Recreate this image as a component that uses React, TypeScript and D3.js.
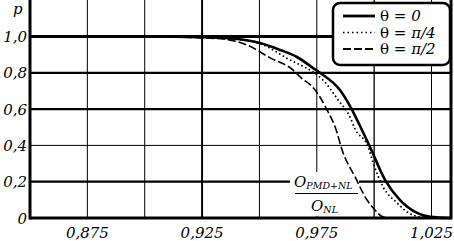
import React from 'react';
import * as d3 from 'd3';

// curve data: [x, p]
const solidPts: [number, number][] = [
  [0.85, 1.0], [0.9, 1.0], [0.925, 0.996], [0.937, 0.99], [0.9503, 0.964],
  [0.959, 0.926], [0.9664, 0.887], [0.9734, 0.826], [0.9764, 0.8],
  [0.9851, 0.705], [0.9904, 0.595], [0.9947, 0.485], [0.9982, 0.391],
  [1.0048, 0.209], [1.0113, 0.099], [1.0187, 0.028], [1.0244, 0.006], [1.0331, 0],
];
const dottedPts: [number, number][] = [
  [0.85, 1.0], [0.9, 1.0], [0.925, 0.995], [0.937, 0.988], [0.9503, 0.96],
  [0.9634, 0.87], [0.9734, 0.804], [0.9777, 0.76], [0.9843, 0.65],
  [0.9895, 0.556], [0.9917, 0.49], [0.9974, 0.391], [0.9996, 0.303],
  [1.0039, 0.171], [1.01, 0.083], [1.0144, 0.033], [1.0201, 0.006], [1.0288, 0],
];
const dashedPts: [number, number][] = [
  [0.85, 1.0], [0.9, 1.0], [0.92, 0.995], [0.935, 0.985], [0.9446, 0.953],
  [0.9547, 0.882], [0.9647, 0.815], [0.9678, 0.777], [0.9743, 0.705],
  [0.9795, 0.595], [0.983, 0.501], [0.9865, 0.358], [0.9917, 0.226],
  [0.9969, 0.099], [0.9996, 0.055], [1.0039, 0.006], [1.007, 0],
];

const xTicks = [0.875, 0.925, 0.975, 1.025];
const xGrid = [0.875, 0.9, 0.925, 0.95, 0.975, 1.0, 1.025];
const xGridWidth = [1, 1, 2, 1, 1, 1.3, 1];
const yTicks = [0, 0.2, 0.4, 0.6, 0.8, 1.0];
const yGridWidth = [3, 2.2, 1, 2.2, 2.2, 3];

const legendItems = [
  { label: '0', dash: 'none', w: 2.8 },
  { label: 'π/4', dash: '1.5,3', w: 1.6 },
  { label: 'π/2', dash: '8,3', w: 2 },
];

const fmt = (v: number) => (v === 0 ? '0' : d3.format('.3~f')(v).replace('.', ','));
const fmtY = (v: number) => (v === 0 ? '0' : v.toFixed(1).replace('.', ','));

const SERIF = 'DejaVu Serif';

export default function App() {
  const W = 454, H = 241;
  const x = d3.scaleLinear().domain([0.85, 1.0335]).range([30, 451]);
  const y = d3.scaleLinear().domain([0, 1]).range([218, 36.5]);
  const line = d3
    .line<[number, number]>()
    .x((d) => x(d[0]))
    .y((d) => y(d[1]))
    .curve(d3.curveMonotoneX);

  return (
    <svg width={W} height={H} style={{ position: 'absolute', left: 0, top: 0, background: '#fff' }}>
      {/* grid */}
      {xGrid.map((t, i) => (
        <line key={'vx' + i} x1={x(t)} x2={x(t)} y1={0} y2={218} stroke="#000" strokeWidth={xGridWidth[i]} />
      ))}
      {yTicks.map((t, i) => (
        <line key={'hy' + i} x1={30} x2={451} y1={y(t)} y2={y(t)} stroke="#000" strokeWidth={yGridWidth[i]} />
      ))}
      {/* axes */}
      <line x1={30} x2={30} y1={0} y2={219.5} stroke="#000" strokeWidth={3} />
      <line x1={451} x2={451} y1={0} y2={219.5} stroke="#000" strokeWidth={3} />

      {/* fraction label background */}
      <rect x={290} y={172} width={69} height={44} fill="#fff" />

      {/* curves */}
      <path d={line(solidPts) || ''} fill="none" stroke="#000" strokeWidth={2.6} />
      <path d={line(dottedPts) || ''} fill="none" stroke="#000" strokeWidth={1.7} strokeDasharray="1.6,2.6" />
      <path d={line(dashedPts) || ''} fill="none" stroke="#000" strokeWidth={1.6} strokeDasharray="8,3" />

      {/* fraction label */}
      <g fontStyle="italic" fill="#000" fontFamily={SERIF}>
        <text x={294} y={187} fontSize={15}>
          O<tspan fontSize={9.5} dy={2}>PMD+NL</tspan>
        </text>
        <line x1={295} x2={358} y1={193.5} y2={193.5} stroke="#000" strokeWidth={1.2} />
        <text x={311} y={211} fontSize={15}>
          O<tspan fontSize={9.5} dy={2}>NL</tspan>
        </text>
      </g>

      {/* tick labels */}
      <g fontStyle="italic" fontSize={15} fill="#000" fontFamily={SERIF}>
        {yTicks.map((t) => (
          <text key={'yl' + t} x={27} y={y(t) + 5.5} textAnchor="end">{fmtY(t)}</text>
        ))}
        {xTicks.map((t) => (
          <text key={'xl' + t} x={x(t)} y={238} textAnchor="middle">{fmt(t)}</text>
        ))}
        <text x={13} y={14} fontSize={15}>p</text>
      </g>

      {/* legend */}
      <rect x={333} y={3} width={117} height={62} rx={7} fill="#fff" stroke="#000" strokeWidth={2.5} />
      {legendItems.map((it, i) => (
        <g key={'lg' + i}>
          <line x1={343} x2={375} y1={16 + i * 16.5} y2={16 + i * 16.5} stroke="#000" strokeWidth={it.w} strokeDasharray={it.dash} />
          <text x={380} y={21 + i * 16.5} fontSize={15} fill="#000" fontFamily={SERIF}>
            θ = <tspan fontStyle="italic">{it.label}</tspan>
          </text>
        </g>
      ))}
    </svg>
  );
}
